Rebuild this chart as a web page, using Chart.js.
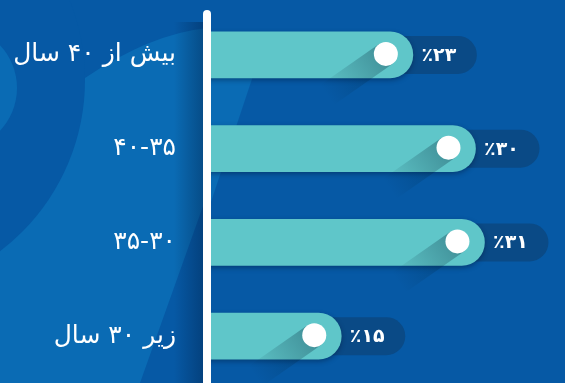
<!DOCTYPE html>
<html lang="fa">
<head>
<meta charset="utf-8">
<script src="https://cdn.jsdelivr.net/npm/chart.js@4.4.1/dist/chart.umd.min.js"></script>
<style>
  html, body { margin:0; padding:0; background:#0659a5; }
  #wrap { width:565px; height:383px; position:relative; }
</style>
</head>
<body>
<div id="wrap"><canvas id="chart"></canvas></div>
<script>
/* ── DATA ──────────────────────────────── */
const AGE_GROUPS = ['بیش از ۴۰ سال', '۴۰-۳۵', '۳۵-۳۰', 'زیر ۳۰ سال'];
const SHARES     = [23, 30, 31, 15];
const X_MAX      = 40;

const FA_DIGITS = '۰۱۲۳۴۵۶۷۸۹';
const toFa = n => String(n).replace(/\d/g, d => FA_DIGITS[d]);

/* ── COLORS ────────────────────────────── */
const BG       = '#0659a5';
const BG_LIGHT = '#0a6bb4';
const BAR      = '#5fc6c9';
const PILL     = '#0a4a86';
const FONT     = '"DejaVu Sans", sans-serif';

/* ── BACKGROUND ────────────────────────── */
const backdrop = {
  id: 'backdrop',
  beforeDraw(chart) {
    const { ctx, width, height } = chart;
    ctx.save();
    ctx.fillStyle = BG;
    ctx.fillRect(0, 0, width, height);

    // lighter swoosh behind the labels
    ctx.fillStyle = BG_LIGHT;
    ctx.beginPath();
    ctx.moveTo(85, 78);
    ctx.quadraticCurveTo(150, 34, 207, 28);
    ctx.lineTo(207, 195);
    ctx.lineTo(140, height);
    ctx.lineTo(0, height);
    ctx.lineTo(0, 60);
    ctx.closePath();
    ctx.fill();

    // dark circle on the left
    ctx.fillStyle = BG;
    ctx.beginPath();
    ctx.arc(-130, 80, 215, 0, Math.PI * 2);
    ctx.fill();

    // thin light crescent at the far left
    ctx.fillStyle = BG_LIGHT;
    ctx.beginPath();
    ctx.arc(-45, 88, 62, 0, Math.PI * 2);
    ctx.fill();
    ctx.fillStyle = BG;
    ctx.beginPath();
    ctx.arc(-62, 88, 62, 0, Math.PI * 2);
    ctx.fill();

    // light wedge right of the axis
    ctx.fillStyle = BG_LIGHT;
    ctx.beginPath();
    ctx.moveTo(207, 70);
    ctx.lineTo(255, 70);
    ctx.lineTo(211, 202);
    ctx.lineTo(207, 202);
    ctx.closePath();
    ctx.fill();

    // shadow cast by the axis line
    const g = ctx.createLinearGradient(174, 0, 204, 0);
    g.addColorStop(0, 'rgba(0,25,60,0)');
    g.addColorStop(1, 'rgba(0,25,60,0.38)');
    ctx.fillStyle = g;
    ctx.fillRect(174, 22, 30, height);
    ctx.restore();
  }
};

/* ── PILLS, KNOBS, AXIS LINE ───────────── */
const decor = {
  id: 'decor',
  beforeDatasetsDraw(chart) {
    const { ctx } = chart;
    const meta = chart.getDatasetMeta(0);
    ctx.save();
    meta.data.forEach((bar, i) => {
      const h = 38, r = h / 2;
      const x0 = bar.x - 30, x1 = bar.x + 64;
      ctx.fillStyle = PILL;
      ctx.beginPath();
      ctx.moveTo(x0, bar.y - r);
      ctx.lineTo(x1 - r, bar.y - r);
      ctx.arc(x1 - r, bar.y, r, -Math.PI / 2, Math.PI / 2);
      ctx.lineTo(x0, bar.y + r);
      ctx.closePath();
      ctx.fill();

      ctx.fillStyle = '#ffffff';
      ctx.font = 'bold 19px ' + FONT;
      ctx.textAlign = 'center';
      ctx.textBaseline = 'middle';
      ctx.fillText('٪' + toFa(SHARES[i]), bar.x + 26, bar.y + 1);
    });
    // soft drop shadow under the bars
    ctx.shadowColor = 'rgba(0,20,50,0.4)';
    ctx.shadowBlur = 5;
    ctx.shadowOffsetY = 2;
  },
  afterDatasetsDraw(chart) {
    const { ctx, chartArea } = chart;
    ctx.restore();
    const meta = chart.getDatasetMeta(0);
    ctx.save();
    meta.data.forEach(bar => {
      const cx = bar.x - 27, cy = bar.y - 1, r = 12;
      const ang = 35 * Math.PI / 180;
      const dx = -Math.cos(ang), dy = Math.sin(ang);
      const px = -dy, py = dx; // perpendicular
      const L = 72;
      const g = ctx.createLinearGradient(cx, cy, cx + dx * L, cy + dy * L);
      g.addColorStop(0, 'rgba(0,30,50,0.32)');
      g.addColorStop(1, 'rgba(0,30,50,0)');
      ctx.fillStyle = g;
      ctx.beginPath();
      ctx.moveTo(cx + px * r, cy + py * r);
      ctx.lineTo(cx + px * r + dx * L, cy + py * r + dy * L);
      ctx.lineTo(cx - px * r + dx * L, cy - py * r + dy * L);
      ctx.lineTo(cx - px * r, cy - py * r);
      ctx.closePath();
      ctx.fill();

      ctx.fillStyle = '#ffffff';
      ctx.beginPath();
      ctx.arc(cx, cy, r, 0, Math.PI * 2);
      ctx.fill();
    });

    // white axis line
    ctx.strokeStyle = '#ffffff';
    ctx.lineWidth = 8;
    ctx.lineCap = 'round';
    ctx.beginPath();
    ctx.moveTo(chartArea.left, 14);
    ctx.lineTo(chartArea.left, chart.height + 10);
    ctx.stroke();
    ctx.restore();
  }
};

/* ── CHART ─────────────────────────────── */
new Chart(document.getElementById('chart'), {
  type: 'bar',
  data: {
    labels: AGE_GROUPS,
    datasets: [{
      data: SHARES,
      backgroundColor: BAR,
      barThickness: 46,
      borderRadius: 23,
      borderSkipped: 'start',
    }]
  },
  options: {
    indexAxis: 'y',
    responsive: true,
    maintainAspectRatio: false,
    animation: false,
    layout: { padding: { top: 8, right: 0, bottom: 0, left: 0 } },
    plugins: { legend: { display: false }, tooltip: { enabled: false } },
    scales: {
      x: { display: false, min: 0, max: X_MAX },
      y: {
        grid: { display: false, drawTicks: false },
        border: { display: false },
        ticks: { color: '#ffffff', padding: 31, font: { family: FONT, size: 25 } },
        afterFit(s) {
          s.width = 207;
          s.paddingTop = 0;
          s.paddingBottom = 0;
        }
      }
    }
  },
  plugins: [backdrop, decor]
});
</script>
</body>
</html>
